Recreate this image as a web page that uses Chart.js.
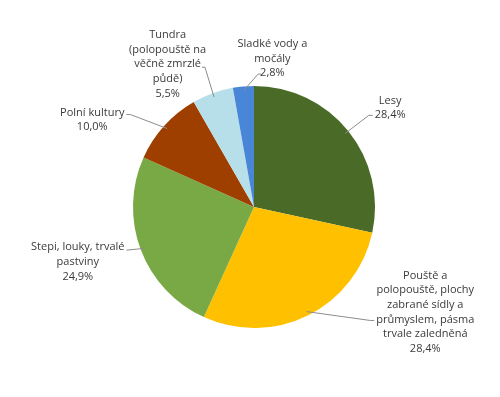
<!DOCTYPE html>
<html>
<head>
<meta charset="utf-8">
<script src="https://cdn.jsdelivr.net/npm/chart.js@4"></script>
<style>
  html, body { margin:0; padding:0; background:#fff; }
  #wrap { width:500px; height:397px; position:relative; }
</style>
</head>
<body>
<div id="wrap"><canvas id="pie" width="500" height="397"></canvas></div>
<script>
// categories and shares (%), clockwise from 12 o'clock
const labels = [
  ['Lesy'],
  ['Pouště a', 'polopouště, plochy', 'zabrané sídly a', 'průmyslem, pásma', 'trvale zaledněná'],
  ['Stepi, louky, trvalé', 'pastviny'],
  ['Polní kultury'],
  ['Tundra', '(polopouště na', 'věčně zmrzlé', 'půdě)'],
  ['Sladké vody a', 'močály']
];
const shares = [28.4, 28.4, 24.9, 10.0, 5.5, 2.8];
const colors = ['#4a6b27', '#ffc000', '#79a945', '#9e3f00', '#b7dfe9', '#4a86d8'];

// label placement: offset of text block centre from the arc's mid point on the rim
const labelPos = [
  { dx: 42, dy: -23 },
  { dx: 117, dy: -3 },
  { dx: -63, dy: 12 },
  { dx: -72, dy: -6 },
  { dx: -45, dy: -29 },
  { dx: 29, dy: -28 }
];

const pctText = v => v.toFixed(1).replace('.', ',') + '%';

const labelPlugin = {
  id: 'pieLabels',
  afterDatasetsDraw(chart) {
    const ctx = chart.ctx;
    const meta = chart.getDatasetMeta(0);
    const lh = 14.6;
    ctx.save();
    ctx.font = '11px "Open Sans", "Noto Sans", sans-serif';
    ctx.fillStyle = '#3a3a3a';
    ctx.textBaseline = 'middle';
    meta.data.forEach((arc, i) => {
      const p = arc.getProps(['x', 'y', 'startAngle', 'endAngle', 'outerRadius'], true);
      const mid = (p.startAngle + p.endAngle) / 2;
      const rx = p.x + Math.cos(mid) * p.outerRadius;
      const ry = p.y + Math.sin(mid) * p.outerRadius;
      const lp = labelPos[i];
      const lines = labels[i].concat([pctText(shares[i])]);
      const cx = rx + lp.dx;
      const cy = ry + lp.dy;
      const h = lines.length * lh;
      const top = cy - h / 2;
      const w = k => ctx.measureText(lines[k]).width;

      // leader line
      ctx.strokeStyle = '#8c8c8c';
      ctx.lineWidth = 1;
      ctx.beginPath();
      const ix = p.x + Math.cos(mid) * (p.outerRadius - 4);
      const iy = p.y + Math.sin(mid) * (p.outerRadius - 4);
      ctx.moveTo(ix, iy);
      let ex, ey;
      if (i === 0) { ex = cx - w(1) / 2 - 6; ey = top + lh * 1.5; ctx.lineTo(ex, ey); ctx.lineTo(ex + 4, ey); }
      else if (i === 1) { ex = cx - w(3) / 2 - 6; ey = top + lh * 3.5 + 1; ctx.lineTo(ex, ey); ctx.lineTo(ex + 4, ey); }
      else if (i === 2) { ex = cx + w(0) / 2 + 2; ey = top + lh * 0.5 + 3; ctx.lineTo(ex, ey); }
      else if (i === 3) { ex = cx + w(0) / 2 + 6; ey = top + lh * 0.5 + 2; ctx.lineTo(ex, ey); ctx.lineTo(ex - 4, ey); }
      else if (i === 4) { ex = cx + w(2) / 2 + 4; ey = top + lh * 2.5 + 3; ctx.lineTo(ex, ey); ctx.lineTo(ex - 3, ey); }
      else { ex = cx - w(2) / 2 - 2; ey = top + lh * 2.5 + 1; ctx.lineTo(ex, ey); ctx.lineTo(ex + 3, ey); }
      ctx.stroke();

      ctx.textAlign = 'center';
      lines.forEach((l, k) => ctx.fillText(l, cx, top + lh * (k + 0.5)));
    });
    ctx.restore();
  }
};

new Chart(document.getElementById('pie'), {
  type: 'pie',
  data: {
    labels: labels.map(l => l.join(' ')),
    datasets: [{ data: shares, backgroundColor: colors, borderWidth: 0 }]
  },
  options: {
    responsive: false,
    animation: false,
    layout: { padding: { top: 86, bottom: 69, left: 133, right: 125 } },
    plugins: { legend: { display: false }, tooltip: { enabled: false } }
  },
  plugins: [labelPlugin]
});
</script>
</body>
</html>
